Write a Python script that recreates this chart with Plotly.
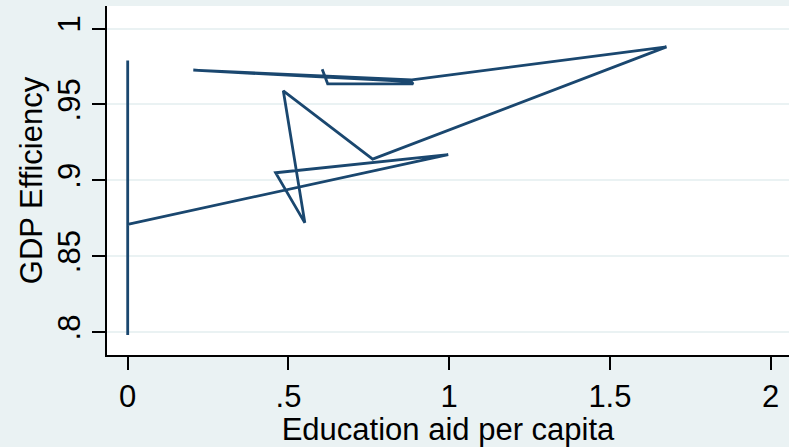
import plotly.graph_objects as go

# Data in plotted (connected) order
edu_aid = [0, 0, 0, 0, 0, 0.997, 0.46, 0.551, 0.484, 0.762, 1.676, 0.884, 0.204, 0.882, 0.888, 0.622, 0.605]
gdp_eff = [0.979, 0.86, 0.93, 0.798, 0.871, 0.917, 0.905, 0.872, 0.959, 0.914, 0.988, 0.9662, 0.9726, 0.9650, 0.9636, 0.9636, 0.9732]

x_ticks = [0, 0.5, 1, 1.5, 2]
x_tick_labels = ["0", ".5", "1", "1.5", "2"]
y_ticks = [0.8, 0.85, 0.9, 0.95, 1.0]
y_tick_labels = [".8", ".85", ".9", ".95", "1"]

BG = "#EAF2F3"
LINE = "#1A476F"
FONT = "Liberation Sans, Arial, sans-serif"

fig = go.Figure()
fig.add_trace(go.Scatter(x=edu_aid, y=gdp_eff, mode="lines",
                         line=dict(color=LINE, width=2.8), showlegend=False,
                         hoverinfo="skip"))

fig.update_layout(
    width=789, height=447,
    paper_bgcolor=BG, plot_bgcolor="white",
    margin=dict(l=107, r=0, t=6, b=92, autoexpand=False),
    font=dict(family=FONT, color="black", size=31),
    xaxis=dict(
        range=[-0.0644, 2.057], tickvals=x_ticks, ticktext=x_tick_labels,
        showgrid=False, zeroline=False, showline=True, linecolor="black", linewidth=2,
        ticks="outside", ticklen=13, tickwidth=2, tickcolor="black",
        tickfont=dict(size=31, family=FONT), automargin=False,
        title=dict(text="Education aid per capita", font=dict(size=31, family=FONT), standoff=0),
    ),
    yaxis=dict(
        range=[0.7849, 1.0149], tickvals=y_ticks, ticktext=y_tick_labels,
        showgrid=True, gridcolor=BG, gridwidth=2, zeroline=False,
        showline=True, linecolor="black", linewidth=2,
        ticks="outside", ticklen=13, tickwidth=2, tickcolor="black",
        tickangle=-90, tickfont=dict(size=31, family=FONT), automargin=False,
        title=dict(text="GDP Efficiency", font=dict(size=31, family=FONT), standoff=0),
    ),
)

fig.write_html(
    "out.html",
    config={"displayModeBar": False, "staticPlot": True},
    post_script="document.body.style.margin='0';document.body.style.background='#EAF2F3';",
)
